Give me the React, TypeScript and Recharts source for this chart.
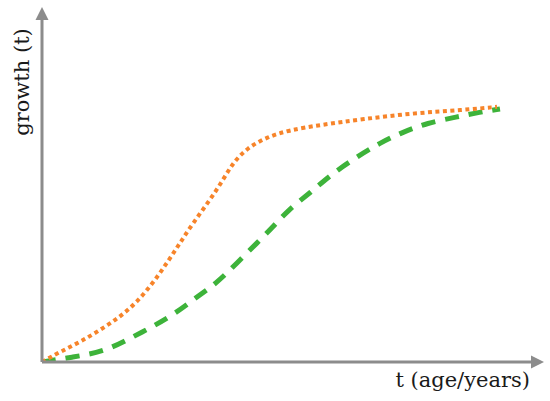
import React from "react";
import { LineChart, Line, XAxis, YAxis, Label } from "recharts";

// logistic-style growth curves (x: age, y: growth)
const fastAge = [0, 3.6, 7.6, 11.6, 15.6, 19, 22.2, 25, 27.6, 30.2, 33.6, 36.2, 38.2, 41, 45, 49.6, 55.6, 64.2, 74.2, 84.2, 91];
const fastGrowth = [0, 2.9, 5.7, 9.1, 12.9, 17.1, 22.6, 28.3, 34, 39.7, 46.3, 52, 56.9, 61.1, 64.3, 66.3, 67.7, 69.4, 71.1, 72, 72.9];

const slowAge = [0, 6.2, 12.2, 17, 21.6, 26.2, 31, 35, 39, 43, 46.2, 49.2, 53.6, 58.2, 63, 67.6, 72.2, 77, 83, 87.6, 91.6];
const slowGrowth = [0, 1.4, 2.9, 6.3, 9.7, 13.4, 18.6, 22.6, 28.3, 34, 38.6, 43.4, 48.3, 54, 58.6, 62.6, 65.7, 68.3, 70, 71.4, 72.3];

const xLabel = "t (age/years)";
const yLabel = "growth (t)";

const fastData = fastAge.map((x, i) => ({ x, y: fastGrowth[i] }));
const slowData = slowAge.map((x, i) => ({ x, y: slowGrowth[i] }));

const axisColor = "#8c8c8c";
const font = "'DejaVu Serif', serif";

export default function App() {
  return (
    <div style={{ position: "absolute", left: 0, top: 0, background: "#fff" }}>
      <svg width={0} height={0} style={{ position: "absolute" }}>
        <defs>
          <marker id="arrowRight" markerUnits="userSpaceOnUse" markerWidth={14} markerHeight={14}
            refX={1} refY={7} orient="auto">
            <path d="M0,0.5 L13,7 L0,13.5 Z" fill={axisColor} />
          </marker>
          <marker id="arrowUp" markerUnits="userSpaceOnUse" markerWidth={14} markerHeight={14}
            refX={12} refY={7} orient="auto">
            <path d="M13,0.5 L0,7 L13,13.5 Z" fill={axisColor} />
          </marker>
        </defs>
      </svg>
      <LineChart width={550} height={401} margin={{ top: 19, right: 18, bottom: 38, left: 41 }}>
        <XAxis
          type="number"
          dataKey="x"
          domain={[0, 98]}
          allowDataOverflow
          ticks={[]}
          tickLine={false}
          height={1}
          axisLine={{ stroke: axisColor, strokeWidth: 3, markerEnd: "url(#arrowRight)" } as any}
        >
          <Label
            content={({ viewBox }: any) => (
              <text x={viewBox.x + viewBox.width - 2} y={viewBox.y + 25} textAnchor="end"
                fontFamily={font} fontSize={21} fill="#1a1a1a">{xLabel}</text>
            )}
          />
        </XAxis>
        <YAxis
          type="number"
          dataKey="y"
          domain={[0, 98]}
          allowDataOverflow
          ticks={[]}
          tickLine={false}
          width={1}
          axisLine={{ stroke: axisColor, strokeWidth: 3, markerStart: "url(#arrowUp)" } as any}
        >
          <Label
            content={({ viewBox }: any) => (
              <text x={0} y={0} transform={`translate(${viewBox.x - 12},${viewBox.y + 63}) rotate(-90)`}
                textAnchor="middle" fontFamily={font} fontSize={21} fill="#1a1a1a">{yLabel}</text>
            )}
          />
        </YAxis>
        <Line data={slowData} dataKey="y" type="basis" stroke="#3db33a" strokeWidth={5}
          strokeDasharray="14 10" dot={false} isAnimationActive={false} />
        <Line data={fastData} dataKey="y" type="basis" stroke="#f7842a" strokeWidth={4}
          strokeDasharray="4 3.5" dot={false} isAnimationActive={false} />
      </LineChart>
    </div>
  );
}
